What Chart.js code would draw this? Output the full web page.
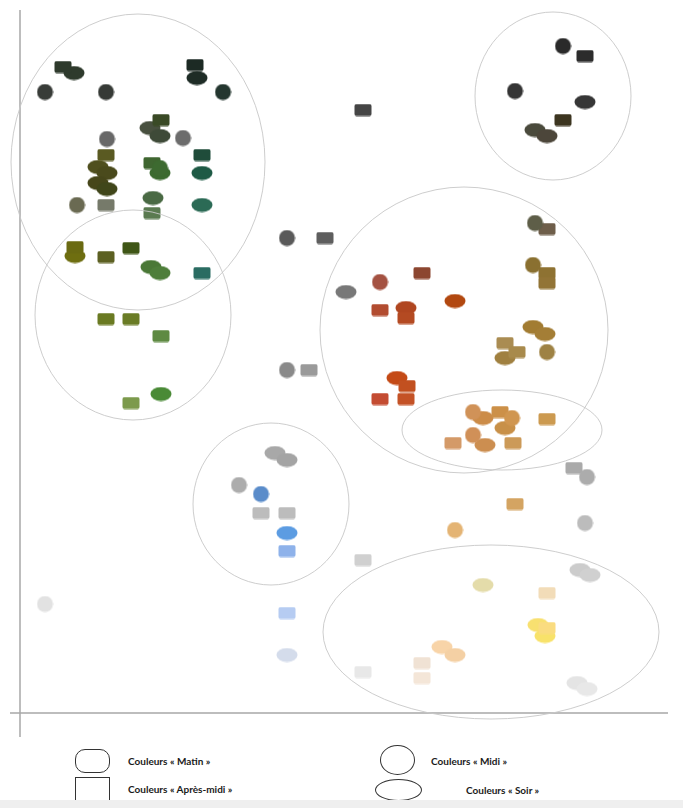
<!DOCTYPE html>
<html lang="fr">
<head>
<meta charset="utf-8">
<title>Couleurs</title>
<script src="https://cdn.jsdelivr.net/npm/chart.js@4.4.1/dist/chart.umd.min.js"></script>
<style>
  html, body { margin: 0; padding: 0; background: #ffffff; }
  body { width: 683px; height: 808px; position: relative; overflow: hidden; font-family: "Lato", "DejaVu Sans", sans-serif; }
  #chartBox { position: absolute; left: 0; top: 0; width: 683px; height: 740px; }
  .legend-icon { position: absolute; border: 1.3px solid #333; box-sizing: border-box; background: #fff; }
  .legend-text { position: absolute; font-size: 10px; font-weight: 700; color: #1a1a1a; white-space: nowrap; line-height: 12px; }
  #band { position: absolute; left: 0; top: 800px; width: 683px; height: 8px; background: #efefef; }
</style>
</head>
<body>
<div id="chartBox"><canvas id="chart"></canvas></div>

<div class="legend-icon" style="left:75px;top:749px;width:35px;height:24px;border-radius:10px;"></div>
<div class="legend-text" style="left:128px;top:755px;">Couleurs « Matin »</div>
<div class="legend-icon" style="left:75px;top:777px;width:35px;height:30px;"></div>
<div class="legend-text" style="left:128px;top:783px;">Couleurs « Après-midi »</div>
<div class="legend-icon" style="left:380px;top:745px;width:35px;height:30px;border-radius:50%;"></div>
<div class="legend-text" style="left:431px;top:755px;">Couleurs « Midi »</div>
<div class="legend-icon" style="left:375px;top:779px;width:47px;height:22px;border-radius:50%;"></div>
<div class="legend-text" style="left:466px;top:784px;">Couleurs « Soir »</div>
<div id="band"></div>

<script>
// values (x to the right, y upwards, origin at the axes corner)
const circleX = [25, 86, 203, 87, 163, 140, 57, 267, 267, 543, 495, 515, 360, 513, 527, 453, 492, 453, 219, 241, 567, 435, 565, 25];
const circleY = [621, 621, 621, 574, 575, 545, 508, 475, 343, 667, 622, 490, 431, 448, 361, 301, 295, 278, 228, 219, 236, 183, 190, 109];
const circleColors = ["#383c38", "#363a36", "#24362f", "#686868", "#6c6c6c", "#3d6a30", "#6a6a52", "#5a5a5a", "#8a8a8a", "#2a2a2a", "#343434", "#5e5e48", "#a45242", "#8a7030", "#9e8244", "#d09258", "#d09650", "#d09058", "#acacac", "#5a8cca", "#acacac", "#e4b474", "#bcbcbc", "#e2e2e2"];

const squareX = [43, 175, 141, 86, 182, 132, 86, 132, 55, 86, 111, 182, 86, 111, 141, 111, 343, 305, 289, 565, 543, 527, 402, 360, 386, 527, 527, 485, 497, 387, 360, 386, 480, 527, 433, 493, 241, 267, 267, 267, 554, 495, 343, 527, 527, 402, 402, 343];
const squareY = [646, 648, 593, 558, 558, 550, 508, 500, 466, 456, 465, 440, 394, 394, 377, 310, 603, 475, 343, 657, 593, 484, 440, 403, 395, 440, 430, 370, 361, 327, 314, 314, 301, 294, 270, 270, 200, 200, 162, 100, 245, 209, 153, 120, 85, 50, 35, 41];
const squareColors = ["#2e3a2c", "#1c2a24", "#3a4a26", "#5a5a22", "#1f4c3a", "#3f6630", "#767a6a", "#5a7a50", "#6a6a12", "#5c6022", "#3f5616", "#2a6c62", "#6a7a22", "#6a7c26", "#5e8a42", "#7c9a4c", "#454545", "#5e5e5e", "#9a9a9a", "#2c2c2c", "#3c3520", "#6e5e4a", "#8c4630", "#b24c30", "#b44a22", "#8e7232", "#927436", "#aa8c52", "#a88a4c", "#c25020", "#c44c32", "#c45226", "#cc9048", "#cc9a50", "#d49a68", "#cc9a58", "#bcbcbc", "#bcbcbc", "#8eb2ea", "#b6ccf2", "#aaaaaa", "#d4a462", "#d0d0d0", "#f2dcb8", "#fadc80", "#f0e2d4", "#f4e6d8", "#e8e8e8"];

const ellipseX = [54, 177, 130, 140, 78, 87, 78, 87, 140, 182, 133, 182, 55, 131, 140, 141, 326, 565, 515, 527, 435, 386, 513, 525, 485, 377, 463, 485, 465, 255, 267, 267, 267, 560, 570, 463, 518, 525, 422, 435, 557, 567];
const ellipseY = [640, 635, 585, 577, 546, 540, 530, 524, 540, 540, 515, 508, 457, 446, 440, 319, 421, 611, 583, 577, 412, 405, 386, 379, 355, 335, 295, 285, 268, 260, 253, 180, 58, 143, 138, 128, 88, 77, 66, 58, 30, 24];
const ellipseColors = ["#2e3a2c", "#1e2c26", "#48503f", "#3e4a38", "#4f4f1e", "#4a4a1c", "#46461a", "#40461a", "#3b6a2e", "#1e5a45", "#4a6a44", "#2b6a55", "#6e6e10", "#4a7836", "#4e7e3a", "#4a8a36", "#787878", "#363636", "#4a4a3c", "#4c463a", "#b24810", "#b04620", "#a27c32", "#a47e36", "#a08040", "#c44a16", "#cc8c48", "#c89048", "#cc8e50", "#a8a8a8", "#a4a4a4", "#5c9ce2", "#d4dceb", "#cccccc", "#d0d0d0", "#e4dcaa", "#f8e070", "#f8e26a", "#f8d4a8", "#f4d0a4", "#e4e4e4", "#e8e8e8"];

// group outlines: centre and half-axes, same units as the points
const groupCx = [118, 113, 533, 444, 482, 251, 471];
const groupCy = [551, 398, 617, 383, 283, 209, 81];
const groupRx = [127, 98, 78, 144, 100, 78, 168];
const groupRy = [148, 105, 84, 143, 40, 81, 87];

const markerCache = {};

function marker(shape, color) {
  const key = shape + color;
  if (markerCache[key]) {
    return markerCache[key];
  }
  const sizes = { circle: [17, 17], square: [18, 13], ellipse: [22, 15] };
  const [w, h] = sizes[shape];
  const c = document.createElement("canvas");
  c.width = w;
  c.height = h;
  const g = c.getContext("2d");
  g.fillStyle = color;
  g.beginPath();
  if (shape === "square") {
    g.roundRect(0.5, 0.5, w - 1, h - 1, 2);
  } else {
    g.ellipse(w / 2, h / 2, w / 2 - 0.5, h / 2 - 0.5, 0, 0, Math.PI * 2);
  }
  g.fill();
  markerCache[key] = c;
  return c;
}

function points(xs, ys) {
  return xs.map((x, i) => ({ x, y: ys[i] }));
}

function shapeDataset(label, shape, xs, ys, colors) {
  return {
    label,
    data: points(xs, ys),
    pointStyle: (ctx) => marker(shape, colors[ctx.dataIndex] || "#888"),
    pointRadius: 8,
    clip: false
  };
}

const axesPlugin = {
  id: "axes",
  beforeDatasetsDraw(chart) {
    const { ctx, chartArea } = chart;
    ctx.save();
    ctx.strokeStyle = "#a8a8a8";
    ctx.lineWidth = 1.5;
    ctx.beginPath();
    ctx.moveTo(chartArea.left, chartArea.top);
    ctx.lineTo(chartArea.left, chartArea.bottom + 24);
    ctx.moveTo(chartArea.left - 10, chartArea.bottom);
    ctx.lineTo(chartArea.right, chartArea.bottom);
    ctx.stroke();
    ctx.restore();
  }
};

const groupsPlugin = {
  id: "groups",
  afterDatasetsDraw(chart) {
    const { ctx, scales } = chart;
    ctx.save();
    ctx.strokeStyle = "rgba(200, 200, 200, 0.9)";
    ctx.lineWidth = 1;
    groupCx.forEach((cx, i) => {
      const px = scales.x.getPixelForValue(cx);
      const py = scales.y.getPixelForValue(groupCy[i]);
      const rx = Math.abs(scales.x.getPixelForValue(cx + groupRx[i]) - px);
      const ry = Math.abs(scales.y.getPixelForValue(groupCy[i] + groupRy[i]) - py);
      ctx.beginPath();
      ctx.ellipse(px, py, rx, ry, 0, 0, Math.PI * 2);
      ctx.stroke();
    });
    ctx.restore();
  }
};

new Chart(document.getElementById("chart"), {
  type: "scatter",
  data: {
    datasets: [
      shapeDataset("Midi", "circle", circleX, circleY, circleColors),
      shapeDataset("Après-midi", "square", squareX, squareY, squareColors),
      shapeDataset("Soir", "ellipse", ellipseX, ellipseY, ellipseColors)
    ]
  },
  options: {
    responsive: true,
    maintainAspectRatio: false,
    animation: false,
    events: [],
    layout: { padding: { left: 20, right: 15, top: 10, bottom: 27 } },
    plugins: { legend: { display: false }, tooltip: { enabled: false } },
    scales: {
      x: { type: "linear", min: 0, max: 648, display: false },
      y: { type: "linear", min: 0, max: 703, display: false }
    }
  },
  plugins: [axesPlugin, groupsPlugin]
});
</script>
</body>
</html>
